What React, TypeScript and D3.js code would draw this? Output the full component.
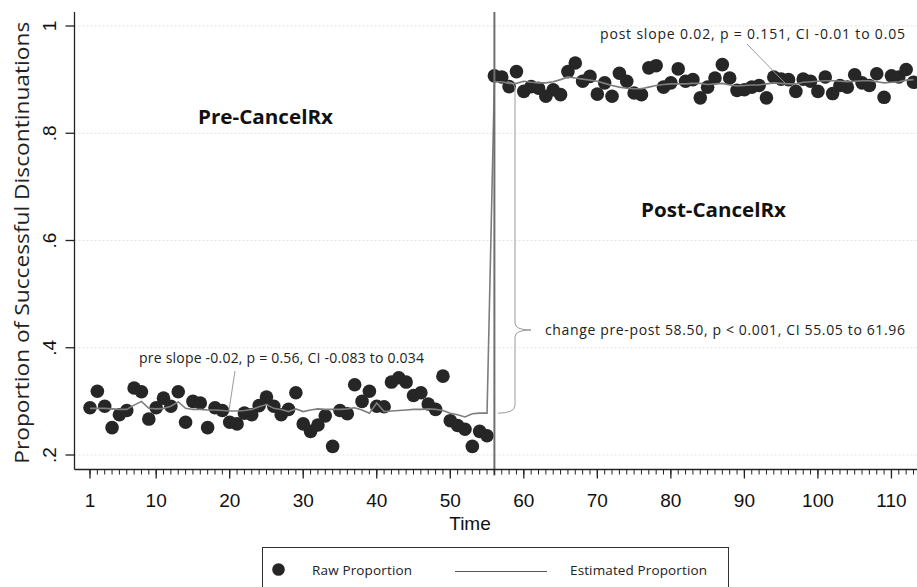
import React from "react";
import * as d3 from "d3";

const preTime = d3.range(1, 56);
const preRaw = [0.288, 0.319, 0.291, 0.251, 0.275, 0.283, 0.325, 0.318, 0.267, 0.288, 0.306, 0.291, 0.318, 0.261, 0.300, 0.297, 0.251, 0.288, 0.283, 0.261, 0.258, 0.278, 0.275, 0.292, 0.308, 0.291, 0.275, 0.285, 0.316, 0.258, 0.244, 0.256, 0.273, 0.216, 0.283, 0.277, 0.331, 0.300, 0.319, 0.291, 0.290, 0.336, 0.344, 0.336, 0.311, 0.316, 0.295, 0.285, 0.347, 0.264, 0.255, 0.248, 0.216, 0.244, 0.236];
const preEst = [0.287, 0.287, 0.287, 0.286, 0.285, 0.285, 0.293, 0.300, 0.287, 0.286, 0.287, 0.291, 0.299, 0.287, 0.285, 0.285, 0.284, 0.284, 0.283, 0.282, 0.282, 0.283, 0.285, 0.290, 0.294, 0.287, 0.285, 0.281, 0.286, 0.281, 0.284, 0.286, 0.285, 0.285, 0.285, 0.286, 0.288, 0.284, 0.278, 0.297, 0.281, 0.282, 0.283, 0.284, 0.285, 0.285, 0.286, 0.285, 0.283, 0.278, 0.275, 0.271, 0.277, 0.278, 0.278];

const postTime = d3.range(56, 114);
const postRaw = [0.907, 0.905, 0.887, 0.915, 0.878, 0.887, 0.884, 0.869, 0.881, 0.872, 0.915, 0.931, 0.897, 0.906, 0.873, 0.894, 0.869, 0.912, 0.897, 0.875, 0.872, 0.922, 0.926, 0.886, 0.894, 0.920, 0.897, 0.900, 0.866, 0.886, 0.903, 0.928, 0.903, 0.880, 0.881, 0.886, 0.889, 0.866, 0.905, 0.901, 0.900, 0.878, 0.901, 0.897, 0.878, 0.905, 0.874, 0.889, 0.886, 0.909, 0.894, 0.889, 0.911, 0.867, 0.907, 0.905, 0.919, 0.895];
const postEst = [0.896, 0.896, 0.893, 0.893, 0.897, 0.895, 0.894, 0.894, 0.896, 0.900, 0.905, 0.903, 0.901, 0.899, 0.897, 0.893, 0.889, 0.886, 0.884, 0.883, 0.883, 0.886, 0.889, 0.891, 0.892, 0.892, 0.892, 0.893, 0.893, 0.891, 0.892, 0.893, 0.890, 0.888, 0.889, 0.890, 0.890, 0.892, 0.894, 0.893, 0.892, 0.892, 0.895, 0.896, 0.897, 0.898, 0.898, 0.897, 0.896, 0.897, 0.898, 0.898, 0.896, 0.894, 0.895, 0.896, 0.899, 0.900];

const xTicks = [1, 10, 20, 30, 40, 50, 60, 70, 80, 90, 100, 110];
const yTicks = [0.2, 0.4, 0.6, 0.8, 1.0];
const yTickLabels = [".2", ".4", ".6", ".8", "1"];
const interventionTime = 56;

const W = 917;
const H = 587;

export default function App() {
  const x = d3.scaleLinear().domain([1, 113]).range([90, 913.5]);
  const y = d3.scaleLinear().domain([0.2, 1.0]).range([455, 26]);
  const axisX = 74.5;
  const axisY = 469.5;
  const top = 12;

  const times = [...preTime, ...postTime];
  const raw = [...preRaw, ...postRaw];
  const est = [...preEst, ...postEst];

  const line = d3
    .line<number>()
    .x((_, i) => x(times[i]))
    .y((d) => y(d));

  const minor = d3.range(1, 116);
  const tickFont = "'Liberation Sans', Arial, sans-serif";
  const textFont = "'Open Sans', 'Noto Sans', sans-serif";

  const bx = 515;
  const bTop = y(0.896);
  const bBot = y(0.278);
  const bMid = 330;
  const brace = `M507,${bTop} Q515,${bTop} ${bx},${bTop + 8} L${bx},${bMid - 7} Q${bx},${bMid} 531,${bMid} Q${bx},${bMid} ${bx},${bMid + 7} L${bx},${bBot - 8} Q${bx},${bBot} 498,${bBot}`;

  return (
    <div style={{ position: "absolute", left: 0, top: 0 }}>
      <svg width={W} height={H} style={{ display: "block", background: "#fff" }}>
        {yTicks.map((t) => (
          <line key={"g" + t} x1={axisX} x2={W} y1={y(t)} y2={y(t)} stroke="#e3e3e3" strokeWidth={1} strokeDasharray="2,2" />
        ))}
        {raw.map((v, i) => (
          <circle key={"d" + i} cx={x(times[i])} cy={y(v)} r={6.8} fill="#262626" />
        ))}
        <path d={line(est) || ""} fill="none" stroke="#7d7d7d" strokeWidth={1.6} />
        <line x1={x(interventionTime)} x2={x(interventionTime)} y1={top} y2={axisY + 6} stroke="#6f6f6f" strokeWidth={2} />
        <line x1={axisX} x2={axisX} y1={top} y2={axisY} stroke="#222" strokeWidth={1.3} />
        <line x1={axisX} x2={W} y1={axisY} y2={axisY} stroke="#222" strokeWidth={1.3} />
        {yTicks.map((t, i) => (
          <g key={"yt" + t}>
            <line x1={axisX - 9} x2={axisX} y1={y(t)} y2={y(t)} stroke="#222" strokeWidth={1.3} />
            <text
              transform={`translate(56,${y(t)}) rotate(-90)`}
              textAnchor="middle"
              fontFamily={tickFont}
              fontSize={19}
              fill="#111"
            >
              {yTickLabels[i]}
            </text>
          </g>
        ))}
        {minor.map((t) => (
          <line key={"m" + t} x1={x(t)} x2={x(t)} y1={axisY} y2={axisY + 5} stroke="#222" strokeWidth={1} />
        ))}
        {xTicks.map((t) => (
          <g key={"xt" + t}>
            <line x1={x(t)} x2={x(t)} y1={axisY} y2={axisY + 9} stroke="#222" strokeWidth={1.3} />
            <text x={x(t)} y={507} textAnchor="middle" fontFamily={tickFont} fontSize={19} fill="#111">
              {t}
            </text>
          </g>
        ))}
        <text x={470} y={530} textAnchor="middle" fontFamily={tickFont} fontSize={19} fill="#111">
          Time
        </text>
        <text
          transform={`translate(29,${(top + axisY) / 2 + 2}) rotate(-90)`}
          textAnchor="middle"
          fontFamily={textFont}
          fontSize={20.5}
          fill="#222"
          textLength={442}
          lengthAdjust="spacingAndGlyphs"
        >
          Proportion of Successful Discontinuations
        </text>
        <text x={198} y={124} fontFamily={textFont} fontWeight="bold" fontSize={19.5} fill="#111" textLength={135} lengthAdjust="spacingAndGlyphs">
          Pre-CancelRx
        </text>
        <text x={641} y={217} fontFamily={textFont} fontWeight="bold" fontSize={19.5} fill="#111" textLength={145} lengthAdjust="spacingAndGlyphs">
          Post-CancelRx
        </text>
        <text x={139} y={363} fontFamily={textFont} fontSize={14} fill="#222" textLength={285} lengthAdjust="spacing">
          pre slope -0.02, p = 0.56, CI -0.083 to 0.034
        </text>
        <line x1={235} y1={371} x2={229} y2={410} stroke="#999" strokeWidth={1} />
        <text x={600} y={39} fontFamily={textFont} fontSize={14} fill="#222" textLength={305} lengthAdjust="spacing">
          post slope 0.02, p = 0.151, CI -0.01 to 0.05
        </text>
        <line x1={747} y1={44} x2={785} y2={83} stroke="#999" strokeWidth={1} />
        <text x={545} y={335} fontFamily={textFont} fontSize={14} fill="#222" textLength={360} lengthAdjust="spacing">
          change pre-post 58.50, p &lt; 0.001, CI 55.05 to 61.96
        </text>
        <path d={brace} fill="none" stroke="#9a9a9a" strokeWidth={1} />
        <rect x={262.5} y={547.5} width={466} height={60} fill="#fff" stroke="#333" strokeWidth={1} />
        <circle cx={278.5} cy={569.5} r={6.3} fill="#262626" />
        <text x={312} y={575} fontFamily={textFont} fontSize={13.5} fill="#222" textLength={100} lengthAdjust="spacing">
          Raw Proportion
        </text>
        <line x1={455} x2={547} y1={571.5} y2={571.5} stroke="#555" strokeWidth={1.2} />
        <text x={570} y={575} fontFamily={textFont} fontSize={13.5} fill="#222" textLength={137} lengthAdjust="spacing">
          Estimated Proportion
        </text>
      </svg>
    </div>
  );
}
